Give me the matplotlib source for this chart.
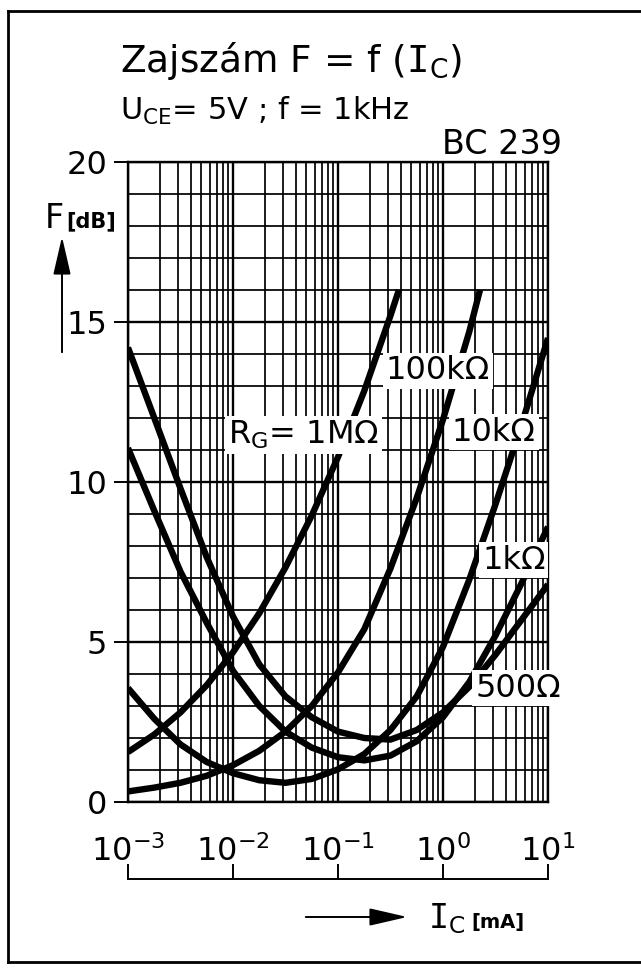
import numpy as np
import matplotlib
matplotlib.use('Agg')
import matplotlib.pyplot as plt
from matplotlib.ticker import LogLocator, MultipleLocator, NullFormatter, FixedLocator
from matplotlib.lines import Line2D

W, H = 641, 973

# collector current, mA (quarter decades)
ic = [0.001, 0.00178, 0.00316, 0.00562, 0.01, 0.0178, 0.0316, 0.0562,
      0.1, 0.178, 0.316, 0.562, 1.0, 1.78, 3.16, 5.62, 10.0]

# noise figure F in dB for each source resistance
f_500 = [14.2, 12.0, 9.8, 7.65, 5.8, 4.3, 3.3, 2.65, 2.2, 2.0, 1.95, 2.25, 2.8, 3.6, 4.6, 5.7, 6.8]
f_1k = [11.06, 9.1, 7.2, 5.6, 4.1, 3.0, 2.2, 1.7, 1.4, 1.3, 1.45, 1.9, 2.65, 3.75, 5.2, 6.85, 8.6]
f_10k = [3.56, 2.6, 1.8, 1.25, 0.9, 0.68, 0.6, 0.72, 1.02, 1.5, 2.25, 3.3, 4.85, 6.95, 9.3, 11.8, 14.5]
ic_100k = ic[:14] + [2.25]
f_100k = [0.33, 0.45, 0.6, 0.82, 1.15, 1.6, 2.2, 3.0, 4.05, 5.4, 7.3, 9.5, 11.95, 14.7, 16.0]
ic_1m = ic[:11] + [0.38]
f_1m = [1.56, 2.11, 2.8, 3.65, 4.68, 5.9, 7.33, 8.95, 10.78, 12.85, 15.2, 16.0]

curves = [(ic, f_500), (ic, f_1k), (ic, f_10k), (ic_100k, f_100k), (ic_1m, f_1m)]

labels = [r'R$_\mathrm{G}$= 1MΩ', '100kΩ', '10kΩ', '1kΩ', '500Ω']
label_x = [0.047, 0.89, 3.05, 4.73, 5.2]
label_y = [11.47, 13.47, 11.56, 7.56, 3.56]

xticks = [1e-3, 1e-2, 1e-1, 1e0, 1e1]
xticklabels = [r'$10^{-3}$', r'$10^{-2}$', r'$10^{-1}$', r'$10^{0}$', r'$10^{1}$']
yticks = [0, 5, 10, 15, 20]


def fx(px):
    return px / W


def fy(py):
    return 1 - py / H


fig = plt.figure(figsize=(W / 100, H / 100), dpi=100)
ax = fig.add_axes([fx(128), fy(802), fx(548) - fx(128), fy(162) - fy(802)])

ax.set_xscale('log')
ax.set_xlim(1e-3, 1e1)
ax.set_ylim(0, 20)

ax.xaxis.set_major_locator(FixedLocator(xticks))
ax.set_xticklabels(xticklabels, fontsize=23)
ax.xaxis.set_minor_locator(LogLocator(base=10, subs=np.arange(2, 10)))
ax.xaxis.set_minor_formatter(NullFormatter())
ax.tick_params(axis='x', which='both', length=0, pad=24)

ax.set_yticks(yticks)
ax.set_yticklabels([str(v) for v in yticks], fontsize=23)
ax.yaxis.set_minor_locator(MultipleLocator(1))
ax.tick_params(axis='y', which='major', direction='out', length=10, width=1.4, pad=5)
ax.tick_params(axis='y', which='minor', length=0)

ax.grid(which='major', color='black', lw=1.7)
ax.grid(which='minor', color='black', lw=1.25)
ax.set_axisbelow(True)
for s in ax.spines.values():
    s.set_linewidth(1.7)

for x, y in curves:
    ax.plot(x, y, color='black', lw=4.6, solid_capstyle='butt', solid_joinstyle='round', zorder=3)

for t, x, y in zip(labels, label_x, label_y):
    ax.text(x, y, t, fontsize=23, ha='center', va='center', zorder=5, clip_on=False,
            bbox=dict(facecolor='white', edgecolor='none', pad=2))

# bracket scale under the decade labels
sec = ax.secondary_xaxis(-0.12)
sec.xaxis.set_major_locator(FixedLocator(xticks))
sec.xaxis.set_minor_locator(FixedLocator([]))
sec.set_xticklabels([])
sec.tick_params(axis='x', direction='in', length=11, width=1.4)
sec.spines['bottom'].set_linewidth(1.4)

# titles
fig.text(fx(120), fy(72), r'Zajszám F = f ($\mathtt{I}_\mathrm{C}$)', fontsize=27, va='baseline')
fig.text(fx(120), fy(120), r'U$_\mathrm{CE}$= 5V ; f = 1kHz', fontsize=22, va='baseline')
fig.text(fx(562), fy(154), 'BC 239', fontsize=24, ha='right', va='baseline')

# y-axis name and arrow
fig.text(fx(45), fy(228), 'F', fontsize=24, va='baseline')
fig.text(fx(66), fy(227), '[dB]', fontsize=15, fontweight='bold', va='baseline')
fig.add_artist(matplotlib.patches.FancyArrowPatch(
    (fx(62), fy(355)), (fx(62), fy(234)), transform=fig.transFigure,
    arrowstyle='-|>,head_length=1.3,head_width=0.3', mutation_scale=18,
    color='black', lw=1.4))

# x-axis name and arrow
fig.add_artist(matplotlib.patches.FancyArrowPatch(
    (fx(303), fy(917)), (fx(410), fy(917)), transform=fig.transFigure,
    arrowstyle='-|>,head_length=1.3,head_width=0.3', mutation_scale=18,
    color='black', lw=1.4))
fig.text(fx(428), fy(928), r'$\mathtt{I}_\mathrm{C}$', fontsize=24, va='baseline')
fig.text(fx(471), fy(928), '[mA]', fontsize=14, fontweight='bold', va='baseline')

# frame round the sheet
for xs, ys in [((8, 8), (11, 962)), ((8, 641), (11, 11)), ((8, 641), (962, 962))]:
    fig.add_artist(Line2D([fx(v) for v in xs], [fy(v) for v in ys], color='black', lw=2))

fig.savefig('out.png', dpi=100)
